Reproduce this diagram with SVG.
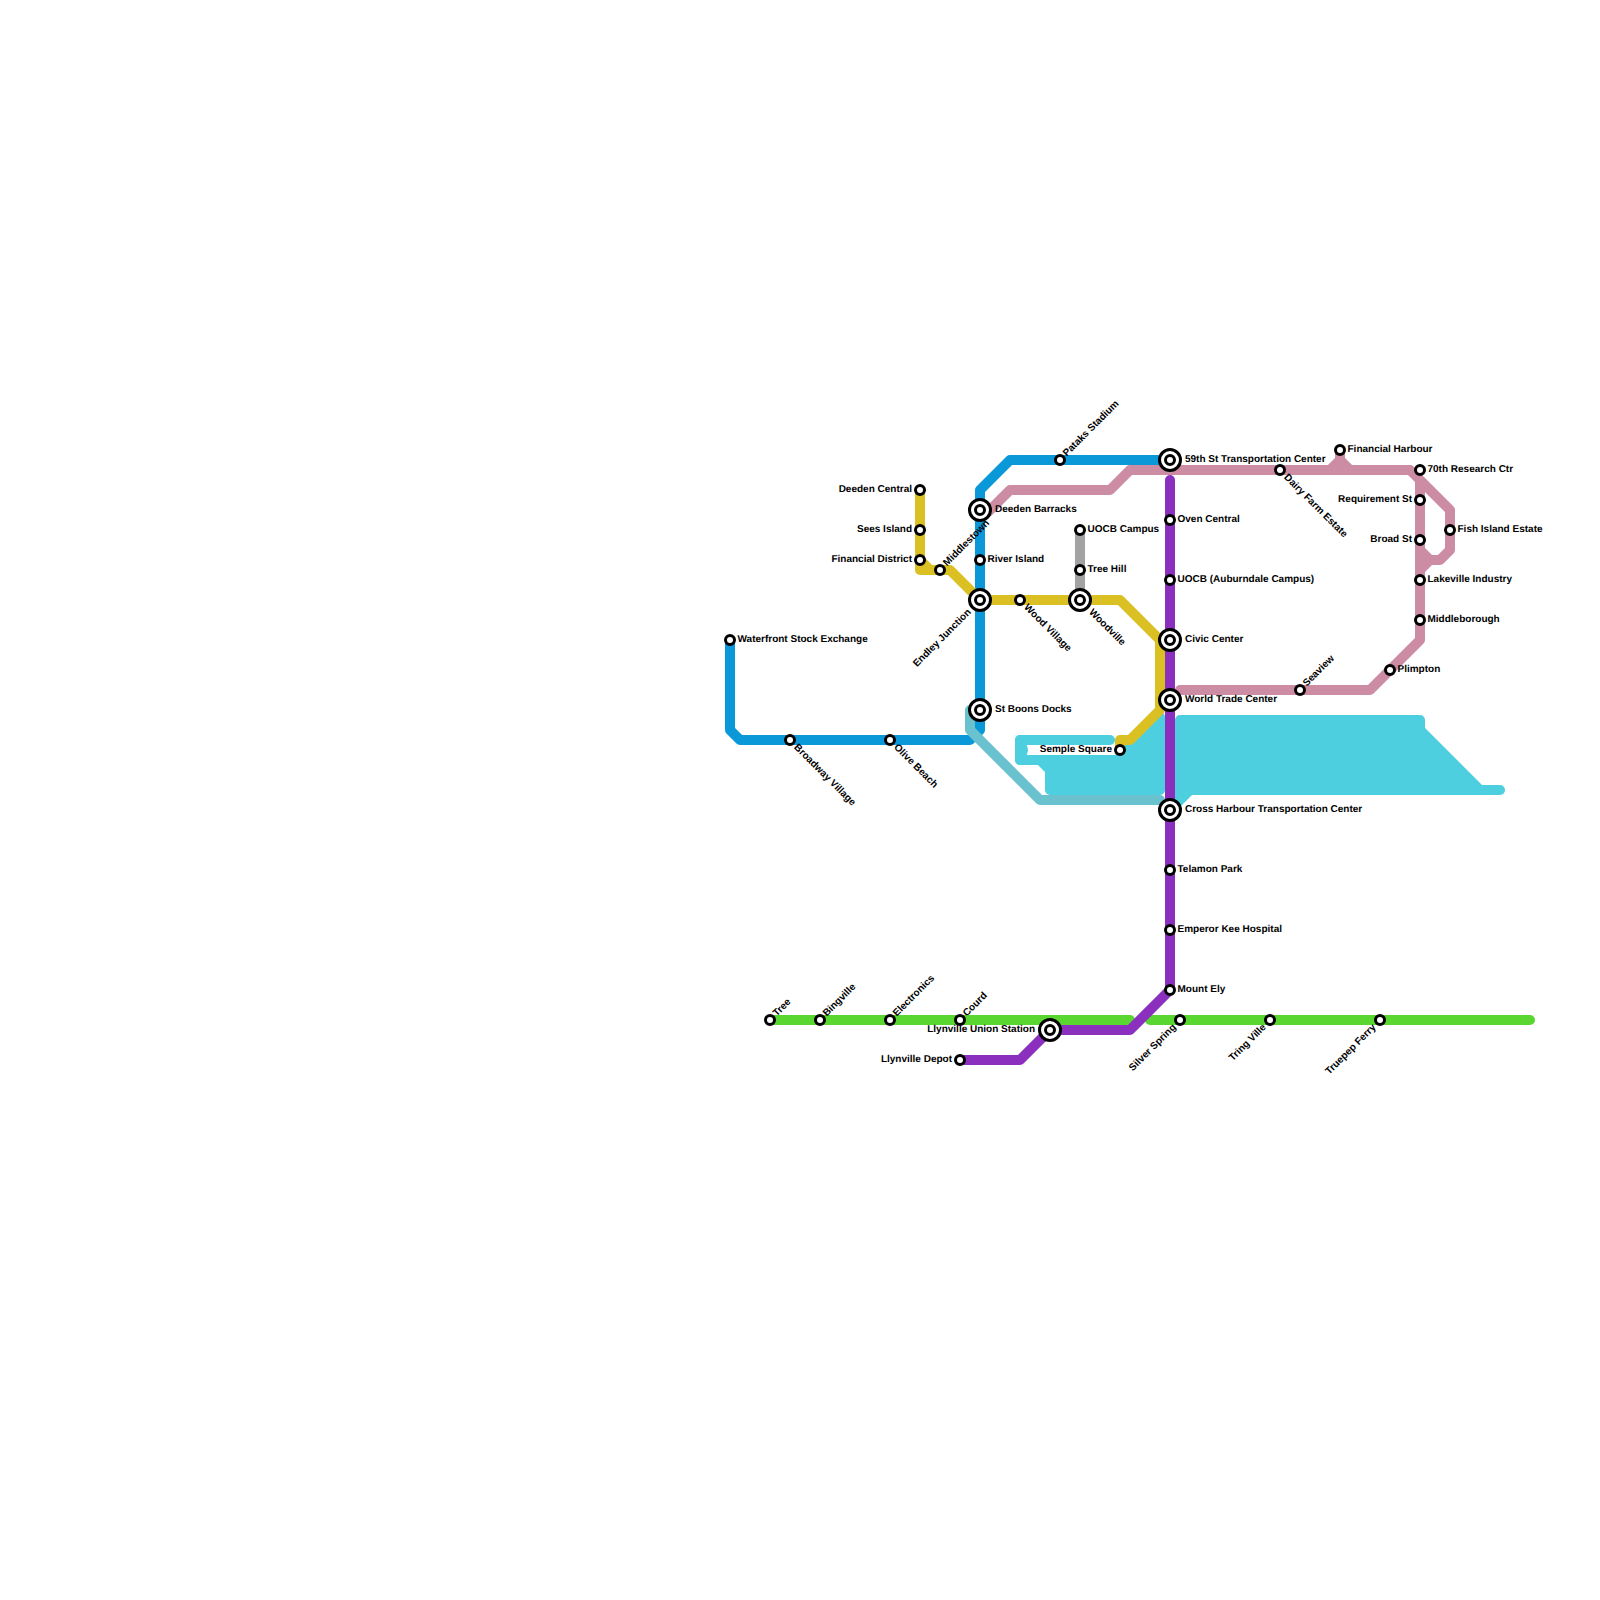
<svg xmlns="http://www.w3.org/2000/svg" width="1600" height="1600" viewBox="0 0 1600 1600">
<style>
.l{fill:none;stroke-width:10;stroke-linecap:round;stroke-linejoin:round}
.c{fill:#4ecfe0;stroke:#4ecfe0;stroke-width:10;stroke-linecap:round;stroke-linejoin:round}
.s{fill:#fff;stroke:#000;stroke-width:3}
text{font-family:"Liberation Sans",Arial,sans-serif;font-size:10px;font-weight:700;fill:#000;text-rendering:geometricPrecision}
.e{text-anchor:end}
</style>
<rect width="1600" height="1600" fill="#fff"/>
<g id="connectors">
<path class="c" d="M1020,740H1110"/>
<path class="c" d="M1020,740L1023,750L1020,760Z"/>
<path class="c" d="M1020,760H1040L1050,770V790H1160V717L1117,760H1040Z"/>
<path class="c" d="M1180,720H1420V730L1480,790H1190L1170,810L1180,800ZM1480,790H1500"/>
<path class="l" stroke="#0a98d9" d="M730,640V730L740,740H970L980,730V490L1010,460H1170"/>
<path class="l" stroke="#6bc2cf" d="M970,710V730L1040,800H1160"/>
<path class="l" stroke="#a2a2a2" d="M1080,530V600"/>
<path class="l" stroke="#cb8ca4" d="M988,512L1010,490H1110L1130,470H1410L1420,480V640L1370,690H1180M1330,470L1340,460L1350,470M1340,450V465M1420,480L1450,510V550L1440,560H1430L1420,570M1420,550L1430,560"/>
<path class="l" stroke="#dbc023" d="M920,490V570H950L980,600H1120L1160,640V710L1130,740H1120V750M920,560L930,570"/>
<path class="l" stroke="#59d62f" d="M770,1020H1130M1150,1020H1530"/>
<path class="l" stroke="#8b30be" d="M960,1060H1020L1050,1030H1130L1170,990V480"/>
</g>
<g id="waterfront"><circle class="s" cx="730" cy="640" r="4.5"/><text x="737.500" y="642">Waterfront Stock Exchange</text></g>
<g id="broadway"><circle class="s" cx="790" cy="740" r="4.5"/><text transform="translate(790,740) rotate(45)" x="8" y="3">Broadway Village</text></g>
<g id="olive"><circle class="s" cx="890" cy="740" r="4.5"/><text transform="translate(890,740) rotate(45)" x="8" y="3">Olive Beach</text></g>
<g id="deedenc"><circle class="s" cx="920" cy="490" r="4.5"/><text class="e" x="912" y="492">Deeden Central</text></g>
<g id="sees"><circle class="s" cx="920" cy="530" r="4.5"/><text class="e" x="912" y="532">Sees Island</text></g>
<g id="findist"><circle class="s" cx="920" cy="560" r="4.5"/><text class="e" x="912" y="562">Financial District</text></g>
<g id="middlestown"><circle class="s" cx="940" cy="570" r="4.5"/><text transform="translate(940,570) rotate(-45)" x="7.500" y="2.500">Middlestown</text></g>
<g id="endley"><circle class="s" cx="980" cy="600" r="10.5"/><circle class="s" cx="980" cy="600" r="4.5"/><text class="e" transform="translate(980,600) rotate(-45)" x="-15" y="3">Endley Junction</text></g>
<g id="deedenb"><circle class="s" cx="980" cy="510" r="10.5"/><circle class="s" cx="980" cy="510" r="4.5"/><text x="995" y="512">Deeden Barracks</text></g>
<g id="river"><circle class="s" cx="980" cy="560" r="4.5"/><text x="987.500" y="562">River Island</text></g>
<g id="stboons"><circle class="s" cx="980" cy="710" r="10.5"/><circle class="s" cx="980" cy="710" r="4.5"/><text x="995" y="712">St Boons Docks</text></g>
<g id="wood"><circle class="s" cx="1020" cy="600" r="4.5"/><text transform="translate(1020,600) rotate(45)" x="8" y="3">Wood Village</text></g>
<g id="pataks"><circle class="s" cx="1060" cy="460" r="4.5"/><text transform="translate(1060,460) rotate(-45)" x="7" y="2.500">Pataks Stadium</text></g>
<g id="uocbc"><circle class="s" cx="1080" cy="530" r="4.5"/><text x="1087.500" y="532">UOCB Campus</text></g>
<g id="tree-hill"><circle class="s" cx="1080" cy="570" r="4.5"/><text x="1087.500" y="572">Tree Hill</text></g>
<g id="woodville"><circle class="s" cx="1080" cy="600" r="10.5"/><circle class="s" cx="1080" cy="600" r="4.5"/><text transform="translate(1080,600) rotate(45)" x="15" y="3">Woodville</text></g>
<g id="semple"><circle class="s" cx="1120" cy="750" r="4.5"/><text class="e" x="1112" y="752">Semple Square</text></g>
<g id="s59th"><circle class="s" cx="1170" cy="460" r="10.5"/><circle class="s" cx="1170" cy="460" r="4.5"/><text x="1185" y="462">59th St Transportation Center</text></g>
<g id="oven"><circle class="s" cx="1170" cy="520" r="4.5"/><text x="1177.500" y="522">Oven Central</text></g>
<g id="uocba"><circle class="s" cx="1170" cy="580" r="4.5"/><text x="1177.500" y="582">UOCB (Auburndale Campus)</text></g>
<g id="civic"><circle class="s" cx="1170" cy="640" r="10.5"/><circle class="s" cx="1170" cy="640" r="4.5"/><text x="1185" y="642">Civic Center</text></g>
<g id="wtc"><circle class="s" cx="1170" cy="700" r="10.5"/><circle class="s" cx="1170" cy="700" r="4.5"/><text x="1185" y="702">World Trade Center</text></g>
<g id="crossh"><circle class="s" cx="1170" cy="810" r="10.5"/><circle class="s" cx="1170" cy="810" r="4.5"/><text x="1185" y="812">Cross Harbour Transportation Center</text></g>
<g id="telamon"><circle class="s" cx="1170" cy="870" r="4.5"/><text x="1177.500" y="872">Telamon Park</text></g>
<g id="emperor"><circle class="s" cx="1170" cy="930" r="4.5"/><text x="1177.500" y="932">Emperor Kee Hospital</text></g>
<g id="mountely"><circle class="s" cx="1170" cy="990" r="4.5"/><text x="1177.500" y="992">Mount Ely</text></g>
<g id="dairy"><circle class="s" cx="1280" cy="470" r="4.5"/><text transform="translate(1280,470) rotate(45)" x="8" y="3">Dairy Farm Estate</text></g>
<g id="finharb"><circle class="s" cx="1340" cy="450" r="4.5"/><text x="1347.500" y="452">Financial Harbour</text></g>
<g id="seaview"><circle class="s" cx="1300" cy="690" r="4.5"/><text transform="translate(1300,690) rotate(-45)" x="7" y="2.500">Seaview</text></g>
<g id="plimpton"><circle class="s" cx="1390" cy="670" r="4.5"/><text x="1397.500" y="672">Plimpton</text></g>
<g id="s70th"><circle class="s" cx="1420" cy="470" r="4.5"/><text x="1427.500" y="472">70th Research Ctr</text></g>
<g id="requirement"><circle class="s" cx="1420" cy="500" r="4.5"/><text class="e" x="1412" y="502">Requirement St</text></g>
<g id="broad"><circle class="s" cx="1420" cy="540" r="4.5"/><text class="e" x="1412" y="542">Broad St</text></g>
<g id="lakeville"><circle class="s" cx="1420" cy="580" r="4.5"/><text x="1427.500" y="582">Lakeville Industry</text></g>
<g id="middleb"><circle class="s" cx="1420" cy="620" r="4.5"/><text x="1427.500" y="622">Middleborough</text></g>
<g id="fish"><circle class="s" cx="1450" cy="530" r="4.5"/><text x="1457.500" y="532">Fish Island Estate</text></g>
<g id="tree"><circle class="s" cx="770" cy="1020" r="4.5"/><text transform="translate(770,1020) rotate(-45)" x="7" y="2.500">Tree</text></g>
<g id="bingville"><circle class="s" cx="820" cy="1020" r="4.5"/><text transform="translate(820,1020) rotate(-45)" x="7" y="2.500">Bingville</text></g>
<g id="electronics"><circle class="s" cx="890" cy="1020" r="4.5"/><text transform="translate(890,1020) rotate(-45)" x="7" y="2.500">Electronics</text></g>
<g id="courd"><circle class="s" cx="960" cy="1020" r="4.5"/><text transform="translate(960,1020) rotate(-45)" x="7" y="2.500">Courd</text></g>
<g id="llyu"><circle class="s" cx="1050" cy="1030" r="10.5"/><circle class="s" cx="1050" cy="1030" r="4.5"/><text class="e" x="1035" y="1032">Llynville Union Station</text></g>
<g id="llyd"><circle class="s" cx="960" cy="1060" r="4.5"/><text class="e" x="952" y="1062">Llynville Depot</text></g>
<g id="silver"><circle class="s" cx="1180" cy="1020" r="4.5"/><text class="e" transform="translate(1180,1020) rotate(-45)" x="-8" y="3">Silver Spring</text></g>
<g id="tring"><circle class="s" cx="1270" cy="1020" r="4.5"/><text class="e" transform="translate(1270,1020) rotate(-45)" x="-8" y="3">Tring Ville</text></g>
<g id="truepep"><circle class="s" cx="1380" cy="1020" r="4.5"/><text class="e" transform="translate(1380,1020) rotate(-45)" x="-8" y="3">Truepep Ferry</text></g>
</svg>
